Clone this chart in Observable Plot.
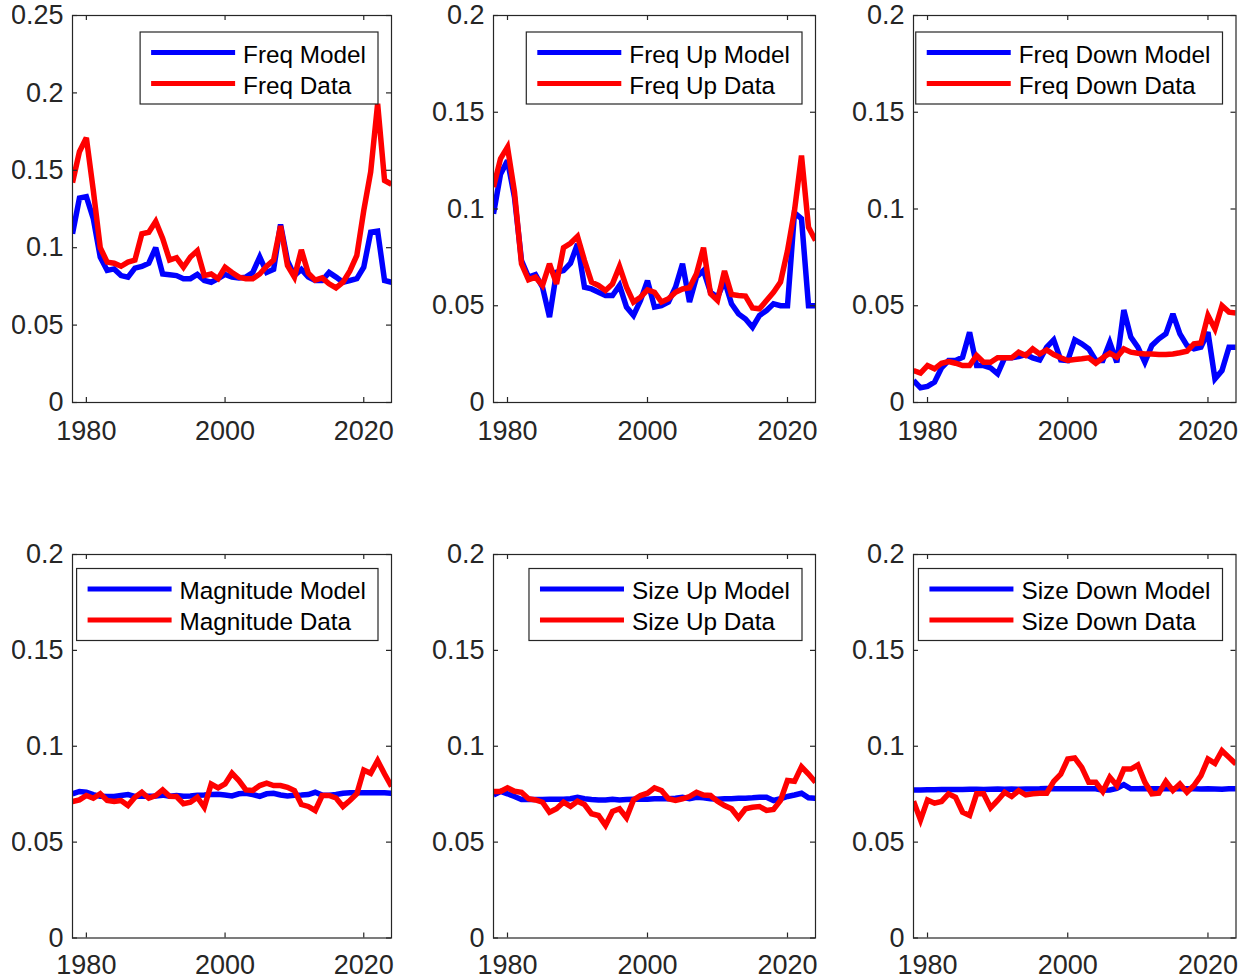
<!DOCTYPE html>
<html>
<head>
<meta charset="utf-8">
<script src="https://cdn.jsdelivr.net/npm/d3@7"></script>
<script src="https://cdn.jsdelivr.net/npm/@observablehq/plot@0.6"></script>
<style>
  html, body { margin: 0; padding: 0; background: #fff; }
  #fig { position: relative; width: 1249px; height: 979px; overflow: hidden; clip-path: inset(0 0 0 12px); background: #fff; }
  #fig svg { position: absolute; }
</style>
</head>
<body>
<div id="fig"></div>
<script>
// ---------------- data ----------------
const years = [1978,1979,1980,1981,1982,1983,1984,1985,1986,1987,1988,1989,1990,1991,1992,1993,1994,1995,1996,1997,1998,1999,
  2000,2001,2002,2003,2004,2005,2006,2007,2008,2009,2010,2011,2012,2013,2014,2015,2016,2017,2018,2019,2020,2021,2022,2023,2024];
const xTicks = [1980, 2000, 2020];
const yTicksTall = [0, 0.05, 0.1, 0.15, 0.2, 0.25];
const yTicksStd = [0, 0.05, 0.1, 0.15, 0.2];

const freqModel = [0.109,0.132,0.133,0.1187,0.094,0.0853,0.0863,0.082,0.081,0.0868,0.0879,0.090,0.100,0.083,0.0825,0.082,0.080,0.080,0.0827,0.0788,0.0777,0.080,
  0.0827,0.081,0.0805,0.081,0.084,0.094,0.084,0.086,0.115,0.0917,0.082,0.086,0.081,0.0788,0.0788,0.084,0.081,0.0777,0.0788,0.080,0.0874,0.110,0.1107,0.0788,0.0777];
const freqData = [0.142,0.162,0.171,0.137,0.100,0.0907,0.090,0.088,0.0907,0.092,0.109,0.110,0.117,0.106,0.092,0.0935,0.0874,0.094,0.098,0.082,0.083,0.080,
  0.0874,0.084,0.081,0.080,0.080,0.083,0.088,0.092,0.114,0.0885,0.081,0.0986,0.0835,0.079,0.0805,0.0767,0.074,0.0777,0.085,0.095,0.124,0.149,0.193,0.1434,0.141];

const freqUpModel = [0.0975,0.118,0.125,0.106,0.0734,0.0648,0.0661,0.0596,0.0441,0.0673,0.0682,0.072,0.082,0.0596,0.0587,0.057,0.0553,0.0553,0.0605,0.0493,0.045,0.0527,
  0.063,0.0493,0.050,0.0519,0.0596,0.0717,0.0519,0.0648,0.0682,0.057,0.0544,0.063,0.051,0.0458,0.0432,0.0389,0.045,0.0475,0.051,0.050,0.050,0.098,0.095,0.050,0.050];
const freqUpData = [0.1113,0.126,0.132,0.1087,0.0717,0.0634,0.0648,0.0605,0.0717,0.0613,0.080,0.0823,0.0858,0.0734,0.0622,0.0605,0.0579,0.0613,0.0703,0.0596,0.0519,0.0544,
  0.0582,0.057,0.0519,0.0536,0.057,0.0587,0.0593,0.0665,0.080,0.0562,0.0527,0.068,0.0558,0.0553,0.055,0.0489,0.0484,0.0527,0.057,0.0622,0.0785,0.0992,0.1276,0.0906,0.0837];

const freqDownModel = [0.0114,0.0076,0.0083,0.0105,0.0179,0.0217,0.0217,0.0234,0.0363,0.0191,0.0191,0.0179,0.0148,0.0231,0.0231,0.0238,0.0248,0.0231,0.022,0.0286,0.0324,0.022,
  0.0217,0.0324,0.0303,0.0277,0.0217,0.0217,0.031,0.0207,0.0478,0.0338,0.0286,0.0208,0.0295,0.0329,0.0355,0.0458,0.0355,0.0295,0.0277,0.0286,0.0363,0.0122,0.0165,0.0286,0.0286];
const freqDownData = [0.0165,0.0152,0.0191,0.0174,0.0203,0.0212,0.0203,0.0191,0.0191,0.0243,0.0208,0.0208,0.0231,0.0231,0.0231,0.026,0.0243,0.0277,0.0251,0.0272,0.0248,0.0231,
  0.0217,0.0222,0.0226,0.0231,0.0203,0.0231,0.0255,0.0234,0.0277,0.026,0.0255,0.0251,0.0251,0.0248,0.0248,0.0251,0.0257,0.0265,0.0303,0.0307,0.045,0.038,0.050,0.0467,0.0463];

const magModel = [0.0752,0.0764,0.076,0.0748,0.0739,0.0738,0.0738,0.0743,0.0748,0.0738,0.0741,0.0739,0.0741,0.0745,0.0739,0.0743,0.0739,0.0741,0.0745,0.0746,0.0748,0.075,
  0.0746,0.0741,0.0752,0.0755,0.0748,0.0739,0.0752,0.0755,0.0746,0.0741,0.0745,0.0746,0.0748,0.076,0.0745,0.0745,0.0748,0.0755,0.0758,0.0758,0.0758,0.0758,0.0758,0.0758,0.0755];
const magData = [0.0712,0.072,0.0743,0.0729,0.0752,0.0717,0.0712,0.0717,0.0691,0.0734,0.076,0.0729,0.0743,0.0772,0.0739,0.0738,0.07,0.0708,0.0734,0.0682,0.0803,0.0783,
  0.0803,0.0859,0.0821,0.0772,0.0769,0.0795,0.0807,0.0795,0.0795,0.0786,0.0769,0.0696,0.0686,0.0665,0.0743,0.0743,0.073,0.0686,0.0717,0.0752,0.0876,0.0859,0.0925,0.0855,0.079];

const sizeUpModel = [0.0746,0.0764,0.0752,0.0738,0.0722,0.0722,0.0722,0.0722,0.0724,0.0724,0.0724,0.0726,0.0734,0.0726,0.0722,0.072,0.072,0.0724,0.072,0.0722,0.0724,0.0724,
  0.0724,0.0726,0.0726,0.0726,0.0729,0.0734,0.0727,0.0734,0.0731,0.0726,0.0724,0.0726,0.0726,0.0729,0.0729,0.0731,0.0734,0.0734,0.0717,0.0726,0.0738,0.0746,0.0755,0.0731,0.0729];
const sizeUpData = [0.0764,0.0764,0.0783,0.0765,0.076,0.0726,0.072,0.0708,0.0656,0.0674,0.0708,0.0686,0.0713,0.0696,0.0648,0.0639,0.0587,0.066,0.0674,0.0627,0.072,0.0743,
  0.0755,0.0783,0.0769,0.0726,0.0717,0.0726,0.0738,0.076,0.0746,0.0743,0.0713,0.0691,0.0674,0.0627,0.0674,0.0682,0.0686,0.0665,0.067,0.0717,0.0821,0.0817,0.0893,0.0855,0.0812];

const sizeDownModel = [0.0772,0.0772,0.0773,0.0773,0.0774,0.0774,0.0775,0.0775,0.0776,0.0776,0.0775,0.0776,0.0777,0.0776,0.0777,0.0776,0.0777,0.0777,0.0778,0.0780,0.0779,0.0778,
  0.0779,0.0779,0.0779,0.0779,0.0778,0.0770,0.0772,0.0780,0.0800,0.0778,0.0779,0.0780,0.0779,0.0778,0.0779,0.0778,0.0779,0.0778,0.0778,0.0777,0.0778,0.0777,0.0776,0.0778,0.0779];
const sizeDownData = [0.0713,0.0616,0.072,0.0703,0.0712,0.0752,0.0734,0.0656,0.0639,0.0752,0.0752,0.0679,0.0717,0.076,0.0738,0.0769,0.0746,0.0752,0.0755,0.0755,0.0817,0.0855,
  0.0933,0.0939,0.089,0.0812,0.0812,0.0764,0.0838,0.0795,0.0881,0.0881,0.0902,0.0812,0.0752,0.0755,0.0817,0.0769,0.0803,0.076,0.0795,0.0847,0.0933,0.0911,0.0977,0.0942,0.0907];

const panels = [
  {model: freqModel, data: freqData, labels: ["Freq Model", "Freq Data"], yMax: 0.25, yTicks: yTicksTall},
  {model: freqUpModel, data: freqUpData, labels: ["Freq Up Model", "Freq Up Data"], yMax: 0.2, yTicks: yTicksStd},
  {model: freqDownModel, data: freqDownData, labels: ["Freq Down Model", "Freq Down Data"], yMax: 0.2, yTicks: yTicksStd},
  {model: magModel, data: magData, labels: ["Magnitude Model", "Magnitude Data"], yMax: 0.2, yTicks: yTicksStd},
  {model: sizeUpModel, data: sizeUpData, labels: ["Size Up Model", "Size Up Data"], yMax: 0.2, yTicks: yTicksStd},
  {model: sizeDownModel, data: sizeDownData, labels: ["Size Down Model", "Size Down Data"], yMax: 0.2, yTicks: yTicksStd}
];

// ---------------- layout ----------------
const cols = [{x: 72, w: 319}, {x: 492.5, w: 322}, {x: 913, w: 322.5}];
const rowsLayout = [
  {y: 15, h: 387, lgTop: 17, xPad: 18.5},
  {y: 553.5, h: 383.5, lgTop: 14.5, xPad: 16.5}
];
const FONT = "'Liberation Sans', Arial, Helvetica, sans-serif";
const INK = "#262626";
const M = {left: 80, right: 20, top: 20, bottom: 60};
const TICK = 5;
const LW = 5.5;

const fig = document.getElementById("fig");

panels.forEach((p, i) => {
  const c = cols[i % 3], r = rowsLayout[Math.floor(i / 3)];
  const W = c.w, H = r.h;
  const rows = years.map((year, k) => ({year, model: p.model[k], data: p.data[k]}));
  const lineOpts = {x: "year", strokeWidth: LW, strokeLinejoin: "miter", strokeMiterlimit: 3, strokeLinecap: "butt", clip: true};
  const chart = Plot.plot({
    width: W + M.left + M.right,
    height: H + M.top + M.bottom,
    marginLeft: M.left, marginRight: M.right, marginTop: M.top, marginBottom: M.bottom,
    x: {domain: [1978, 2024]},
    y: {domain: [0, p.yMax]},
    style: {fontFamily: FONT, fontSize: "27px", color: INK, background: "transparent", overflow: "visible"},
    marks: [
      Plot.line(rows, {...lineOpts, y: "model", stroke: "#0000ff"}),
      Plot.line(rows, {...lineOpts, y: "data", stroke: "#ff0000"}),
      Plot.ruleX(xTicks, {insetTop: H - TICK, stroke: INK, strokeWidth: 1.2}),
      Plot.ruleX(xTicks, {insetBottom: H - TICK, stroke: INK, strokeWidth: 1.2}),
      Plot.ruleY(p.yTicks, {insetRight: W - TICK, stroke: INK, strokeWidth: 1.2}),
      Plot.ruleY(p.yTicks, {insetLeft: W - TICK, stroke: INK, strokeWidth: 1.2}),
      Plot.frame({stroke: INK, strokeWidth: 1.2}),
      Plot.axisX({ticks: xTicks, tickSize: 0, tickPadding: r.xPad, tickFormat: d => String(d), label: null}),
      Plot.axisY({ticks: p.yTicks, tickSize: 0, tickPadding: 9, tickFormat: d => String(d), label: null})
    ]
  });
  chart.style.left = (c.x - M.left) + "px";
  chart.style.top = (r.y - M.top) + "px";
  fig.appendChild(chart);

  // legend (MATLAB-style box, top-right inside axes)
  const svg = d3.select(chart);
  const g = svg.append("g").attr("font-family", FONT).attr("font-size", 24.3).attr("text-anchor", "start");
  const boxTop = M.top + r.lgTop;
  const lineY = [boxTop + 20.5, boxTop + 51.5];
  const texts = p.labels.map((lab, k) => g.append("text")
    .attr("text-anchor", "start")
    .attr("y", lineY[k] + 1.5).attr("dy", "0.35em").attr("fill", "#000").text(lab));
  const tw = d3.max(texts, t => t.node().getComputedTextLength());
  const boxW = 103 + tw + 12;
  const boxRight = M.left + W - 13;
  const boxLeft = boxRight - boxW;
  texts.forEach(t => t.attr("x", boxLeft + 103));
  g.insert("rect", ":first-child")
    .attr("x", boxLeft).attr("y", boxTop).attr("width", boxW).attr("height", 72)
    .attr("fill", "#fff").attr("stroke", INK).attr("stroke-width", 1.2);
  ["#0000ff", "#ff0000"].forEach((col, k) => {
    g.insert("line", "text").attr("x1", boxLeft + 11).attr("x2", boxLeft + 95)
      .attr("y1", lineY[k]).attr("y2", lineY[k]).attr("stroke", col).attr("stroke-width", 5);
  });
});
</script>
</body>
</html>
